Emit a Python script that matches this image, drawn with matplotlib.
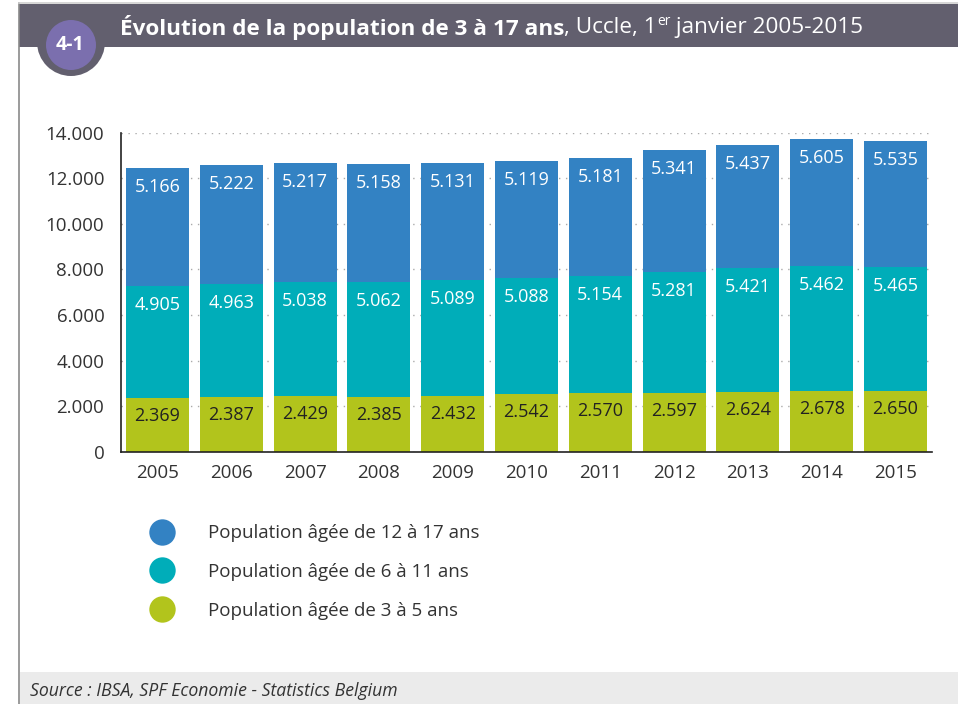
import matplotlib.pyplot as plt
import numpy as np
from matplotlib.patches import Rectangle, Circle
from matplotlib.lines import Line2D

plt.rcParams['font.family'] = ['Open Sans', 'DejaVu Sans']

years = ['2005', '2006', '2007', '2008', '2009', '2010', '2011', '2012', '2013', '2014', '2015']
age_3_5 = [2369, 2387, 2429, 2385, 2432, 2542, 2570, 2597, 2624, 2678, 2650]
age_6_11 = [4905, 4963, 5038, 5062, 5089, 5088, 5154, 5281, 5421, 5462, 5465]
age_12_17 = [5166, 5222, 5217, 5158, 5131, 5119, 5181, 5341, 5437, 5605, 5535]
yticks = [0, 2000, 4000, 6000, 8000, 10000, 12000, 14000]

c_top = '#3382c3'
c_mid = '#00adb9'
c_bot = '#b2c41c'


def fmt(v):
    return f'{v:,}'.replace(',', '.')


fig = plt.figure(figsize=(9.58, 7.04), dpi=100)

# background axes in pixel coords: frame, title band, badge, footer
bax = fig.add_axes([0, 0, 1, 1], facecolor='none', zorder=0)
bax.set_xlim(0, 958)
bax.set_ylim(704, 0)
bax.axis('off')
bax.plot([19.5, 19.5], [3, 704], color='#8a8a8a', lw=1.2)
bax.plot([19, 958], [3, 3], color='#d0d0d0', lw=1.2)
bax.add_patch(Rectangle((19, 3.5), 940, 43.5, facecolor='#625f6e', edgecolor='none', zorder=1))
bax.add_patch(Rectangle((20.5, 672), 940, 33, facecolor='#ebebeb', edgecolor='none', zorder=1))
bax.add_patch(Circle((71, 42), 34, facecolor='#625f6e', edgecolor='none', zorder=2))
bax.add_patch(Circle((71, 45), 25, facecolor='#7b6fae', edgecolor='none', zorder=3))
bax.text(70, 45, '4-1', color='white', fontsize=14, fontweight='bold', ha='center', va='center', zorder=4)

# title pieces, placed one after another
fig.canvas.draw()
r = fig.canvas.get_renderer()
ty = 27.5
t = bax.text(120, ty, 'Évolution de la population de 3 à 17 ans', color='white', fontsize=16.2,
             fontweight='bold', ha='left', va='center', zorder=4)
bb = t.get_window_extent(r)
t2 = fig.text(bb.x1 / 958, 1 - ty / 704, ', Uccle, 1', color='white', fontsize=16.2, ha='left', va='center')
bb2 = t2.get_window_extent(r)
t3 = fig.text(bb2.x1 / 958, 1 - (ty - 6) / 704, 'er', color='white', fontsize=10, ha='left', va='center')
bb3 = t3.get_window_extent(r)
fig.text(bb3.x1 / 958, 1 - ty / 704, ' janvier 2005-2015', color='white', fontsize=16.2, ha='left', va='center')

# source
bax.text(30, 691, 'Source : IBSA, SPF Economie - Statistics Belgium', color='#333333',
         fontsize=12.7, style='italic', ha='left', va='center', zorder=4)

# chart
ax = fig.add_axes([121 / 958, 1 - 451.7 / 704, (932 - 121) / 958, (451.7 - 132.7) / 704], zorder=2)
ax.patch.set_alpha(0)
x = np.arange(len(years))
w = 0.855
bot = np.array(age_3_5)
mid = np.array(age_6_11)
top = np.array(age_12_17)
ax.bar(x, bot, w, color=c_bot, zorder=2)
ax.bar(x, mid, w, bottom=bot, color=c_mid, zorder=2)
ax.bar(x, top, w, bottom=bot + mid, color=c_top, zorder=2)

for i in range(len(years)):
    ax.annotate(fmt(age_3_5[i]), (x[i], bot[i]), xytext=(0, -18), textcoords='offset pixels',
                ha='center', va='center', color='#222222', fontsize=13, zorder=3)
    ax.annotate(fmt(age_6_11[i]), (x[i], bot[i] + mid[i]), xytext=(0, -19), textcoords='offset pixels',
                ha='center', va='center', color='white', fontsize=13, zorder=3)
    ax.annotate(fmt(age_12_17[i]), (x[i], bot[i] + mid[i] + top[i]), xytext=(0, -19),
                textcoords='offset pixels', ha='center', va='center', color='white', fontsize=13, zorder=3)

ax.set_xlim(-0.495, len(years) - 0.505)
ax.set_ylim(0, 14000)
ax.set_yticks(yticks)
ax.set_yticklabels([fmt(v) for v in yticks])
ax.set_xticks(x)
ax.set_xticklabels(years)
ax.tick_params(axis='both', length=0, labelsize=13.5, labelcolor='#333333')
ax.tick_params(axis='y', pad=12)
ax.tick_params(axis='x', pad=9)
ax.yaxis.grid(True, linestyle=(0, (1, 4)), color='#aaaaaa', lw=1, zorder=0)
ax.set_axisbelow(True)
for s in ['top', 'right']:
    ax.spines[s].set_visible(False)
for s in ['left', 'bottom']:
    ax.spines[s].set_color('#222222')
    ax.spines[s].set_linewidth(1.2)

# legend
handles = [Line2D([], [], marker='o', ls='none', markersize=19, markerfacecolor=c, markeredgecolor='none')
           for c in [c_top, c_mid, c_bot]]
labels = ['Population âgée de 12 à 17 ans', 'Population âgée de 6 à 11 ans', 'Population âgée de 3 à 5 ans']
leg = fig.legend(handles, labels, loc='upper left', bbox_to_anchor=(134 / 958, 1 - 515 / 704),
                 frameon=False, fontsize=13.5, labelspacing=1.1, handletextpad=1.45, borderpad=0)
for tx in leg.get_texts():
    tx.set_color('#333333')

fig.savefig('out.png', dpi=100)
